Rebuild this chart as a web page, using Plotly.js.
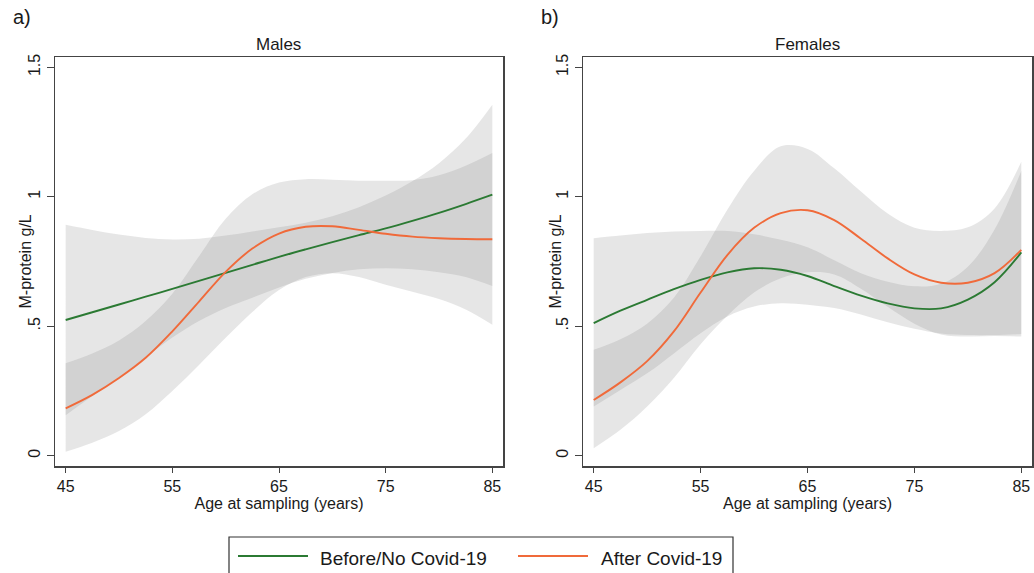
<!DOCTYPE html>
<html>
<head>
<meta charset="utf-8">
<script src="https://cdn.plot.ly/plotly-3.0.1.min.js"></script>
<style>html,body{margin:0;padding:0;background:#fff;}#chart{width:1034px;height:573px;}</style>
</head>
<body>
<div id="chart"></div>
<script>
// ---- Data ----
const age = [45, 47.5, 50, 52.5, 55, 57.5, 60, 62.5, 65, 67.5, 70, 72.5, 75, 77.5, 80, 82.5, 85];

const seriesNames = ["Before/No Covid-19", "After Covid-19"];
const panelTitles = ["Males", "Females"];
const panelLetters = ["a)", "b)"];
const xTickVals = [45, 55, 65, 75, 85];
const yTickVals = [0, 0.5, 1, 1.5];
const yTickText = ["0", ".5", "1", "1.5"];
const xAxisTitle = "Age at sampling (years)";
const yAxisTitle = "M-protein g/L";

// Males
const maleBefore      = [0.524, 0.554, 0.584, 0.614, 0.644, 0.675, 0.706, 0.737, 0.768, 0.797, 0.825, 0.852, 0.878, 0.907, 0.938, 0.972, 1.008];
const maleBeforeUpper = [0.892, 0.872, 0.854, 0.841, 0.835, 0.838, 0.850, 0.866, 0.882, 0.900, 0.925, 0.960, 1.005, 1.060, 1.130, 1.225, 1.356];
const maleBeforeLower = [0.156, 0.230, 0.303, 0.380, 0.456, 0.520, 0.570, 0.610, 0.650, 0.683, 0.706, 0.720, 0.724, 0.720, 0.708, 0.690, 0.655];
const maleAfter       = [0.183, 0.235, 0.300, 0.378, 0.480, 0.595, 0.710, 0.800, 0.858, 0.884, 0.886, 0.872, 0.857, 0.846, 0.840, 0.837, 0.836];
const maleAfterUpper  = [0.357, 0.395, 0.445, 0.520, 0.625, 0.770, 0.915, 1.010, 1.055, 1.068, 1.066, 1.062, 1.062, 1.064, 1.083, 1.120, 1.169];
const maleAfterLower  = [0.015, 0.050, 0.095, 0.160, 0.250, 0.350, 0.455, 0.555, 0.640, 0.690, 0.705, 0.690, 0.660, 0.633, 0.605, 0.565, 0.506];

// Females
const femaleBefore      = [0.512, 0.560, 0.602, 0.643, 0.679, 0.708, 0.724, 0.718, 0.694, 0.655, 0.618, 0.588, 0.569, 0.569, 0.603, 0.670, 0.785];
const femaleBeforeUpper = [0.840, 0.850, 0.860, 0.866, 0.868, 0.868, 0.855, 0.834, 0.805, 0.755, 0.705, 0.672, 0.654, 0.664, 0.730, 0.874, 1.100];
const femaleBeforeLower = [0.190, 0.254, 0.318, 0.395, 0.473, 0.538, 0.576, 0.589, 0.583, 0.570, 0.545, 0.515, 0.490, 0.472, 0.466, 0.466, 0.470];
const femaleAfter       = [0.215, 0.283, 0.365, 0.480, 0.630, 0.775, 0.880, 0.937, 0.948, 0.910, 0.838, 0.762, 0.700, 0.668, 0.668, 0.705, 0.795];
const femaleAfterUpper  = [0.409, 0.450, 0.510, 0.610, 0.770, 0.950, 1.100, 1.195, 1.185, 1.110, 1.020, 0.935, 0.880, 0.868, 0.882, 0.955, 1.135];
const femaleAfterLower  = [0.029, 0.100, 0.190, 0.300, 0.430, 0.540, 0.630, 0.685, 0.708, 0.700, 0.645, 0.575, 0.510, 0.468, 0.460, 0.462, 0.460];

// ---- Styles ----
const W = 1034, H = 573;
const green = "#2b7a33";
const orange = "#f06a3a";
const bandFill = "rgba(128,128,128,0.2)";
const FONT = "Liberation Sans, Arial, Helvetica, sans-serif";
const txt = "#1a1a1a";

const panels = [
  {xa: "x",  ya: "y",  before: maleBefore, bU: maleBeforeUpper, bL: maleBeforeLower, after: maleAfter, aU: maleAfterUpper, aL: maleAfterLower},
  {xa: "x2", ya: "y2", before: femaleBefore, bU: femaleBeforeUpper, bL: femaleBeforeLower, after: femaleAfter, aU: femaleAfterUpper, aL: femaleAfterLower}
];

const traces = [];
panels.forEach(p => {
  const bandPair = (lower, upper) => {
    traces.push({x: age, y: lower, xaxis: p.xa, yaxis: p.ya, mode: "lines", line: {width: 0, shape: "spline", smoothing: 1}, showlegend: false, hoverinfo: "skip"});
    traces.push({x: age, y: upper, xaxis: p.xa, yaxis: p.ya, mode: "lines", line: {width: 0, shape: "spline", smoothing: 1}, fill: "tonexty", fillcolor: bandFill, showlegend: false, hoverinfo: "skip"});
  };
  bandPair(p.bL, p.bU);
  bandPair(p.aL, p.aU);
  traces.push({x: age, y: p.before, xaxis: p.xa, yaxis: p.ya, mode: "lines", name: seriesNames[0], line: {color: green, width: 1.9, shape: "spline", smoothing: 1}, showlegend: false});
  traces.push({x: age, y: p.after, xaxis: p.xa, yaxis: p.ya, mode: "lines", name: seriesNames[1], line: {color: orange, width: 1.9, shape: "spline", smoothing: 1}, showlegend: false});
});

const px = v => v / W;
const py = v => (H - v) / H;

const xDomA = [px(55), px(503)], xDomB = [px(583), px(1032)];
const yDom = [py(466), py(57)];

function xAxis(domain, anchor) {
  return {
    domain: domain, anchor: anchor, range: [44, 86], automargin: false,
    tickvals: xTickVals, ticktext: xTickVals.map(String),
    ticks: "outside", ticklen: 5, tickwidth: 1, tickcolor: "#444",
    showline: true, mirror: true, linecolor: "#444", linewidth: 1.5,
    showgrid: false, zeroline: false,
    tickfont: {family: FONT, size: 16, color: txt},
    title: {text: xAxisTitle, font: {family: FONT, size: 16, color: txt}, standoff: 4}
  };
}
function yAxis(domain, anchor) {
  return {
    domain: domain, anchor: anchor, range: [-0.04, 1.54], automargin: false,
    tickvals: yTickVals, ticktext: yTickText, tickangle: -90,
    ticks: "outside", ticklen: 7, tickwidth: 1, tickcolor: "#444",
    showline: true, mirror: true, linecolor: "#444", linewidth: 1.5,
    showgrid: false, zeroline: false,
    tickfont: {family: FONT, size: 16, color: txt}
  };
}

const yMid = py((57 + 466) / 2);
const annotations = [
  {text: panelTitles[0], x: (xDomA[0] + xDomA[1]) / 2, y: py(44), xref: "paper", yref: "paper", showarrow: false, font: {family: FONT, size: 17, color: txt}, xanchor: "center", yanchor: "middle"},
  {text: panelTitles[1], x: (xDomB[0] + xDomB[1]) / 2, y: py(44), xref: "paper", yref: "paper", showarrow: false, font: {family: FONT, size: 17, color: txt}, xanchor: "center", yanchor: "middle"},
  {text: yAxisTitle, x: px(25), y: yMid, xref: "paper", yref: "paper", showarrow: false, textangle: -90, font: {family: FONT, size: 16, color: txt}, xanchor: "center", yanchor: "middle"},
  {text: yAxisTitle, x: px(555), y: yMid, xref: "paper", yref: "paper", showarrow: false, textangle: -90, font: {family: FONT, size: 16, color: txt}, xanchor: "center", yanchor: "middle"},
  {text: panelLetters[0], x: px(11), y: py(17), xref: "paper", yref: "paper", showarrow: false, font: {family: FONT, size: 20, color: txt}, xanchor: "left", yanchor: "middle"},
  {text: panelLetters[1], x: px(539), y: py(17), xref: "paper", yref: "paper", showarrow: false, font: {family: FONT, size: 20, color: txt}, xanchor: "left", yanchor: "middle"},
  {text: seriesNames[0], x: px(318), y: py(558), xref: "paper", yref: "paper", showarrow: false, font: {family: FONT, size: 19, color: txt}, xanchor: "left", yanchor: "middle"},
  {text: seriesNames[1], x: px(599), y: py(558), xref: "paper", yref: "paper", showarrow: false, font: {family: FONT, size: 19, color: txt}, xanchor: "left", yanchor: "middle"}
];

const shapes = [
  {type: "rect", xref: "paper", yref: "paper", x0: px(229), x1: px(733), y0: py(537), y1: py(600), line: {color: "#333", width: 1.2}, fillcolor: "rgba(0,0,0,0)"},
  {type: "line", xref: "paper", yref: "paper", x0: px(238), x1: px(308), y0: py(556), y1: py(556), line: {color: green, width: 2}},
  {type: "line", xref: "paper", yref: "paper", x0: px(518), x1: px(588), y0: py(556), y1: py(556), line: {color: orange, width: 2}}
];

const layout = {
  width: W, height: H,
  margin: {l: 0, r: 0, t: 0, b: 0, pad: 0},
  paper_bgcolor: "#fff", plot_bgcolor: "#fff",
  showlegend: false,
  xaxis: xAxis(xDomA, "y"), yaxis: yAxis(yDom, "x"),
  xaxis2: xAxis(xDomB, "y2"), yaxis2: yAxis(yDom, "x2"),
  annotations: annotations, shapes: shapes,
  font: {family: FONT, color: txt}
};

Plotly.newPlot("chart", traces, layout, {staticPlot: true, displayModeBar: false});
</script>
</body>
</html>
